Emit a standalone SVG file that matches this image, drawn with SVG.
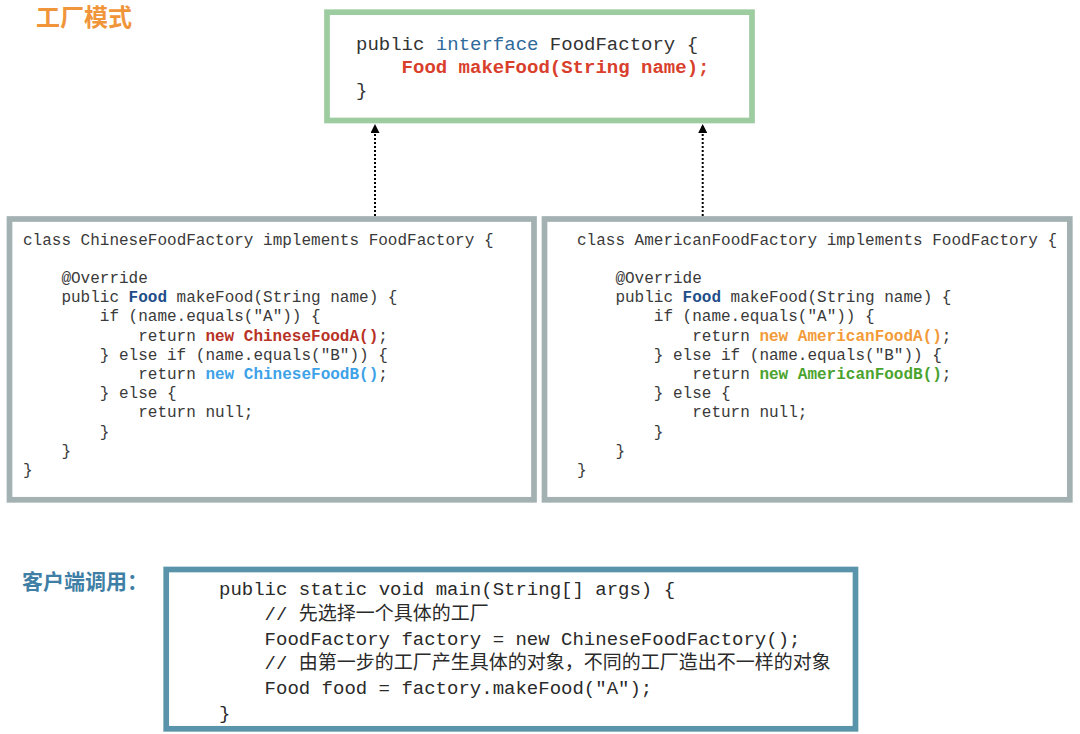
<svg xmlns="http://www.w3.org/2000/svg" width="1080" height="734" viewBox="0 0 1080 734">
<style>
.code{font-family:"Liberation Mono","Noto Sans CJK SC",monospace;fill:#333333;}
.c16{font-size:16px;fill:#3a3a3a;}
.c19{font-size:19px;}
.dark{fill:#2a2a2a;}
.red{fill:#d9402b;}
.b{font-weight:bold;}
.title{font-family:"Noto Sans CJK SC","Noto Sans",sans-serif;font-weight:bold;}
.box{fill:#ffffff;stroke-width:5.7;}
.conn{stroke:#000000;stroke-width:2;stroke-dasharray:2 2;fill:none;}
</style>
<defs>
<marker id="arr" viewBox="0 0 10 10" refX="10" refY="5" markerWidth="9" markerHeight="9" markerUnits="userSpaceOnUse" orient="auto">
<path d="M0,0 L10,5 L0,10 Z" fill="#000000"/>
</marker>
</defs>
<rect width="1080" height="734" fill="#ffffff"/>

<text class="title" x="36" y="26" font-size="24" fill="#f0953a">工厂模式</text>
<text class="title" x="22" y="589" font-size="21" fill="#3f7fa6">客户端调用：</text>

<g id="connectors">
<line class="conn" x1="375" y1="216" x2="375" y2="124" marker-end="url(#arr)"/>
<line class="conn" x1="702.7" y1="216" x2="702.7" y2="124" marker-end="url(#arr)"/>
</g>

<g id="FoodFactory">
<rect class="box" x="327" y="12.2" width="425" height="108.3" stroke="#9dcca0"/>
<text class="code c19" x="356" y="50">public <tspan fill="#2f6a9a">interface</tspan> FoodFactory {</text>
<text class="code c19 b red" x="401.6" y="73">Food makeFood(String name);</text>
<text class="code c19" x="356" y="96">}</text>
</g>

<g id="ChineseFoodFactory">
<rect class="box" x="9.5" y="219" width="524.5" height="280.8" stroke="#a3b1b3"/>
<text class="code c16" x="23" y="244.5">class ChineseFoodFactory implements FoodFactory {</text>
<text class="code c16" x="61.4" y="282.9">@Override</text>
<text class="code c16" x="61.4" y="302.1">public <tspan class="b" fill="#1f4e8a">Food</tspan> makeFood(String name) {</text>
<text class="code c16" x="99.8" y="321.3">if (name.equals("A")) {</text>
<text class="code c16" x="138.2" y="340.5">return <tspan class="b" fill="#b83226">new ChineseFoodA()</tspan>;</text>
<text class="code c16" x="99.8" y="359.7">} else if (name.equals("B")) {</text>
<text class="code c16" x="138.2" y="378.9">return <tspan class="b" fill="#3ea2e8">new ChineseFoodB()</tspan>;</text>
<text class="code c16" x="99.8" y="398.1">} else {</text>
<text class="code c16" x="138.2" y="417.3">return null;</text>
<text class="code c16" x="99.8" y="436.5">}</text>
<text class="code c16" x="61.4" y="455.7">}</text>
<text class="code c16" x="23" y="474.9">}</text>
</g>

<g id="AmericanFoodFactory">
<rect class="box" x="544.5" y="219" width="525.3" height="280.8" stroke="#a3b1b3"/>
<text class="code c16" x="577" y="244.5">class AmericanFoodFactory implements FoodFactory {</text>
<text class="code c16" x="615.4" y="282.9">@Override</text>
<text class="code c16" x="615.4" y="302.1">public <tspan class="b" fill="#1f4e8a">Food</tspan> makeFood(String name) {</text>
<text class="code c16" x="653.8" y="321.3">if (name.equals("A")) {</text>
<text class="code c16" x="692.2" y="340.5">return <tspan class="b" fill="#f29b38">new AmericanFoodA()</tspan>;</text>
<text class="code c16" x="653.8" y="359.7">} else if (name.equals("B")) {</text>
<text class="code c16" x="692.2" y="378.9">return <tspan class="b" fill="#4aa32e">new AmericanFoodB()</tspan>;</text>
<text class="code c16" x="653.8" y="398.1">} else {</text>
<text class="code c16" x="692.2" y="417.3">return null;</text>
<text class="code c16" x="653.8" y="436.5">}</text>
<text class="code c16" x="615.4" y="455.7">}</text>
<text class="code c16" x="577" y="474.9">}</text>
</g>

<g id="Client">
<rect class="box" x="166.2" y="569.5" width="689.3" height="159.3" stroke="#5a94aa"/>
<text class="code c19 dark" x="219" y="595">public static void main(String[] args) {</text>
<text class="code c19 dark" x="264.6" y="619.8">// 先选择一个具体的工厂</text>
<text class="code c19 dark" x="264.6" y="644.6">FoodFactory factory = new ChineseFoodFactory();</text>
<text class="code c19 dark" x="264.6" y="669.4">// 由第一步的工厂产生具体的对象，不同的工厂造出不一样的对象</text>
<text class="code c19 dark" x="264.6" y="694.2">Food food = factory.makeFood("A");</text>
<text class="code c19 dark" x="219" y="719">}</text>
</g>
</svg>
